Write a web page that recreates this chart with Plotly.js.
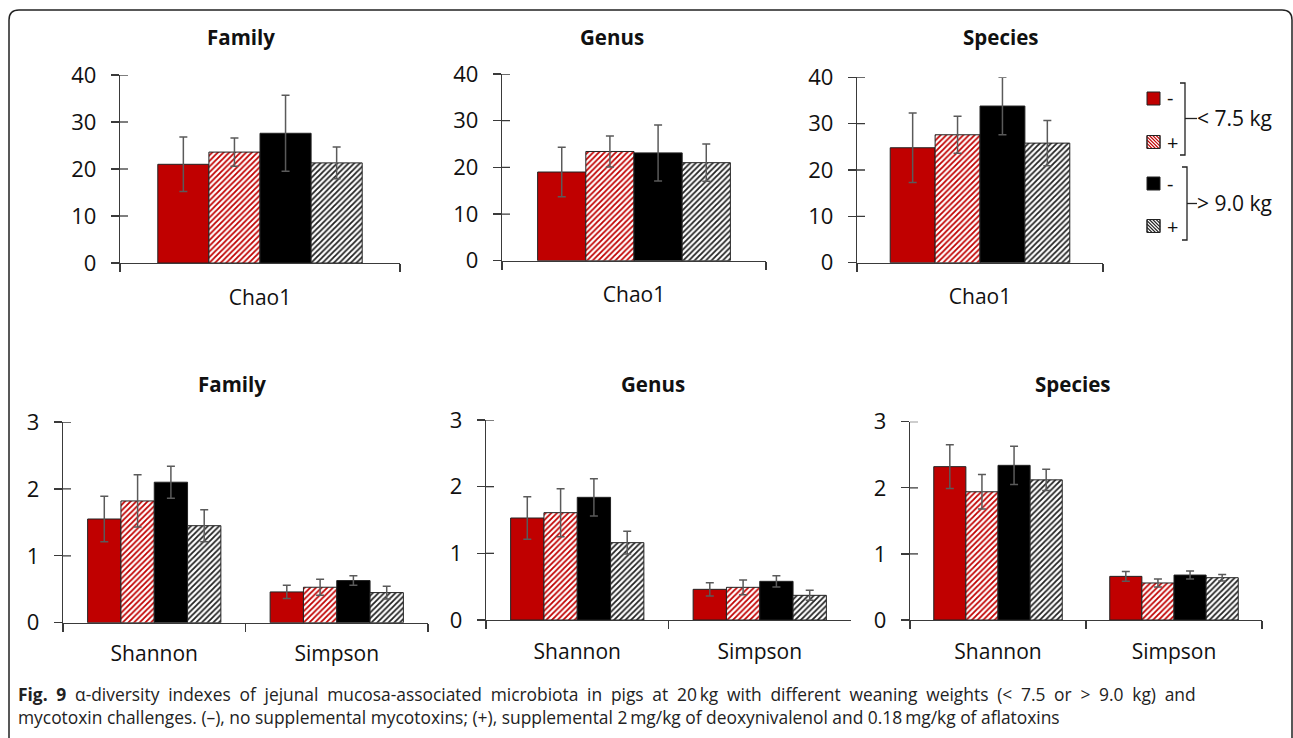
<!DOCTYPE html>
<html>
<head>
<meta charset="utf-8">
<script src="https://cdn.plot.ly/plotly-3.0.1.min.js"></script>
<style>html,body{margin:0;padding:0;background:#fff;}#chart{width:1293px;height:738px;}</style>
</head>
<body>
<div id="chart"></div>
<script>
// ---- data ----
const seriesNames = ['-', '+', '-', '+'];
const groupNames = ['< 7.5 kg', '> 9.0 kg'];
const topCategories = ['Chao1'];
const bottomCategories = ['Shannon', 'Simpson'];
const topTicks = [0, 10, 20, 30, 40];
const bottomTicks = [0, 1, 2, 3];

const familyChao1 = [21.0, 23.6, 27.6, 21.3];
const familyChao1Err = [5.8, 3.0, 8.1, 3.4];
const genusChao1 = [19.0, 23.4, 23.1, 21.0];
const genusChao1Err = [5.3, 3.3, 6.0, 4.0];
const speciesChao1 = [24.8, 27.6, 33.8, 25.8];
const speciesChao1Err = [7.5, 4.0, 6.2, 4.9];

const familyShannon = [1.55, 1.82, 2.10, 1.45];
const familyShannonErr = [0.34, 0.39, 0.24, 0.24];
const familySimpson = [0.46, 0.53, 0.63, 0.45];
const familySimpsonErr = [0.10, 0.12, 0.07, 0.095];

const genusShannon = [1.53, 1.61, 1.84, 1.16];
const genusShannonErr = [0.32, 0.36, 0.28, 0.17];
const genusSimpson = [0.46, 0.49, 0.58, 0.37];
const genusSimpsonErr = [0.10, 0.11, 0.085, 0.075];

const speciesShannon = [2.32, 1.94, 2.34, 2.12];
const speciesShannonErr = [0.33, 0.26, 0.29, 0.16];
const speciesSimpson = [0.66, 0.56, 0.68, 0.64];
const speciesSimpsonErr = [0.075, 0.06, 0.06, 0.05];

// ---- layout helpers ----
const W = 1293, H = 738;
const px = x => x / W;
const py = y => 1 - y / H;
const RED = '#c00000';
const AX = '#3a3a3a';

const panels = [
  {title: 'Family', x0: 120, x1: 400, yb: 263, yt: 75, ticks: topTicks, cats: topCategories,
   vals: [familyChao1], errs: [familyChao1Err], tx: 241, ty: 37, stand: 15},
  {title: 'Genus', x0: 502, x1: 766, yb: 260.7, yt: 74, ticks: topTicks, cats: topCategories,
   vals: [genusChao1], errs: [genusChao1Err], tx: 612, ty: 37, stand: 15},
  {title: 'Species', x0: 857, x1: 1103, yb: 262.7, yt: 77.3, ticks: topTicks, cats: topCategories,
   vals: [speciesChao1], errs: [speciesChao1Err], tx: 1000, ty: 37, stand: 15},
  {title: 'Family', x0: 63, x1: 428, yb: 622.7, yt: 422, ticks: bottomTicks, cats: bottomCategories,
   vals: [familyShannon, familySimpson], errs: [familyShannonErr, familySimpsonErr], tx: 232, ty: 384, stand: 12},
  {title: 'Genus', x0: 486, x1: 851, yb: 620, yt: 420, ticks: bottomTicks, cats: bottomCategories,
   vals: [genusShannon, genusSimpson], errs: [genusShannonErr, genusSimpsonErr], tx: 653, ty: 384, stand: 12},
  {title: 'Species', x0: 910, x1: 1262, yb: 620, yt: 421.7, ticks: bottomTicks, cats: bottomCategories,
   vals: [speciesShannon, speciesSimpson], errs: [speciesShannonErr, speciesSimpsonErr], tx: 1072, ty: 384, stand: 12}
];

const outline = {color: '#222', width: 1};
const markers = [
  {color: RED, line: outline},
  {color: 'white', line: outline, pattern: {shape: '/', fgcolor: RED, bgcolor: 'white', size: 4, solidity: 0.45}},
  {color: '#000', line: outline},
  {color: 'white', line: outline, pattern: {shape: '/', fgcolor: '#222', bgcolor: 'white', size: 4, solidity: 0.45}}
];

const traces = [];
const layout = {
  width: W, height: H,
  margin: {l: 0, r: 0, t: 0, b: 0},
  paper_bgcolor: '#fff', plot_bgcolor: 'rgba(0,0,0,0)',
  font: {family: 'Open Sans, sans-serif', color: '#111', size: 20},
  barmode: 'group', bargap: 0.27, bargroupgap: 0,
  showlegend: false,
  shapes: [], annotations: []
};

panels.forEach((p, k) => {
  const sfx = k === 0 ? '' : String(k + 1);
  for (let i = 0; i < 4; i++) {
    traces.push({
      type: 'bar',
      x: p.cats,
      y: p.vals.map(v => v[i]),
      error_y: {type: 'data', array: p.errs.map(e => e[i]), visible: true, color: '#5a5a5a', thickness: 1.5, width: 4},
      marker: markers[i],
      name: seriesNames[i],
      xaxis: 'x' + sfx, yaxis: 'y' + sfx,
      hoverinfo: 'skip'
    });
  }
  const ymax = p.ticks[p.ticks.length - 1];
  layout['xaxis' + sfx] = {
    domain: [px(p.x0), px(p.x1)], anchor: 'y' + sfx, type: 'category',
    showline: true, linecolor: AX, linewidth: 1.3,
    ticks: 'outside', tickson: 'boundaries', ticklen: 8, tickcolor: AX, tickwidth: 1.3,
    showgrid: false, zeroline: false, fixedrange: true,
    ticklabelstandoff: p.stand, tickfont: {size: 21, color: '#111'}
  };
  layout['yaxis' + sfx] = {
    domain: [py(p.yb), py(p.yt)], anchor: 'x' + sfx, range: [0, ymax],
    tickvals: p.ticks, ticktext: p.ticks.map(String),
    showline: true, linecolor: AX, linewidth: 1.3,
    ticks: 'outside', ticklen: 8, tickcolor: AX, tickwidth: 1.3,
    showgrid: false, zeroline: false, fixedrange: true,
    ticklabelstandoff: 10, tickfont: {size: 22, color: '#111'}
  };
  // inner half of the crossing tick marks
  p.ticks.forEach(v => {
    if (v === 0) return;
    layout.shapes.push({type: 'line', xref: 'paper', yref: 'y' + sfx,
      x0: px(p.x0), x1: px(p.x0 + 8), y0: v, y1: v, line: {color: AX, width: 1.3}});
  });
  layout.annotations.push({text: '<b>' + p.title + '</b>', xref: 'paper', yref: 'paper',
    x: px(p.tx), y: py(p.ty), xanchor: 'center', yanchor: 'middle', showarrow: false,
    font: {size: 20.5, color: '#111'}});
});

// ---- manual legend (swatches, signs, brackets) ----
const L = {color: '#222', width: 1.3};
const path = pts => 'M' + pts.map(q => px(q[0]) + ',' + py(q[1])).join(' L');
const swatchTops = [92, 135.5, 177, 219.5];
const swatchCenters = [98, 142, 183.5, 226];
const S = 13, SX = 1147;
function hatchSquare(x, y, s, color) {
  // diagonal '/' stripes clipped to the square (local coords, v measured upward: u + v = c)
  const step = 3.4;
  for (let c = step / 2; c < 2 * s; c += step) {
    const u0 = Math.max(0, c - s), u1 = Math.min(s, c);
    if (u1 <= u0) continue;
    layout.shapes.push({type: 'line', xref: 'paper', yref: 'paper',
      x0: px(x + u0), y0: py(y + s - (c - u0)), x1: px(x + u1), y1: py(y + s - (c - u1)),
      line: {color: color, width: 1.1}});
  }
}
markers.forEach((m, i) => {
  const y = swatchTops[i];
  const fill = m.pattern ? 'white' : m.color;
  layout.shapes.push({type: 'rect', xref: 'paper', yref: 'paper',
    x0: px(SX), x1: px(SX + S), y0: py(y), y1: py(y + S),
    fillcolor: fill, line: {color: '#222', width: 1}});
  if (m.pattern) hatchSquare(SX, y, S, m.pattern.fgcolor);
  if (m.pattern) layout.shapes.push({type: 'rect', xref: 'paper', yref: 'paper',
    x0: px(SX), x1: px(SX + S), y0: py(y), y1: py(y + S),
    fillcolor: 'rgba(0,0,0,0)', line: {color: '#222', width: 1}});
  layout.annotations.push({text: seriesNames[i], xref: 'paper', yref: 'paper',
    x: px(1165), y: py(swatchCenters[i]), xanchor: 'left', yanchor: 'middle', showarrow: false,
    font: {size: 20, color: '#111'}});
});
layout.shapes.push({type: 'path', xref: 'paper', yref: 'paper', line: L,
  path: path([[1180, 83], [1185, 83], [1185, 155], [1180, 155]])});
layout.shapes.push({type: 'line', xref: 'paper', yref: 'paper', line: L,
  x0: px(1185), x1: px(1197), y0: py(118.5), y1: py(118.5)});
layout.shapes.push({type: 'path', xref: 'paper', yref: 'paper', line: L,
  path: path([[1182, 167], [1187, 167], [1187, 240], [1182, 240]])});
layout.shapes.push({type: 'line', xref: 'paper', yref: 'paper', line: L,
  x0: px(1187), x1: px(1197), y0: py(203.5), y1: py(203.5)});
layout.annotations.push({text: groupNames[0], xref: 'paper', yref: 'paper', x: px(1195), y: py(118),
  xanchor: 'left', yanchor: 'middle', showarrow: false, font: {size: 21, color: '#111'}});
layout.annotations.push({text: groupNames[1], xref: 'paper', yref: 'paper', x: px(1195), y: py(203),
  xanchor: 'left', yanchor: 'middle', showarrow: false, font: {size: 21, color: '#111'}});

// figure frame (rounded corners)
layout.shapes.push({type: 'path', xref: 'paper', yref: 'paper', line: {color: '#222', width: 1.5},
  path: 'M' + px(9) + ',' + py(745) + ' L' + px(9) + ',' + py(20) +
        ' Q' + px(9) + ',' + py(10) + ' ' + px(19) + ',' + py(10) +
        ' L' + px(1282) + ',' + py(10) +
        ' Q' + px(1292) + ',' + py(10) + ' ' + px(1292) + ',' + py(20) +
        ' L' + px(1292) + ',' + py(745)});

// caption (first line justified via word spacing)
layout.annotations.push({
  text: '<span style="word-spacing:4.2px"><b>Fig. 9</b> α-diversity indexes of jejunal mucosa-associated microbiota in pigs at 20\u2009kg with different weaning weights (< 7.5 or > 9.0 kg) and</span><br>mycotoxin challenges. (–), no supplemental mycotoxins; (+), supplemental 2\u2009mg/kg of deoxynivalenol and 0.18\u2009mg/kg of aflatoxins',
  xref: 'paper', yref: 'paper', x: px(16), y: py(705), xanchor: 'left', yanchor: 'middle', align: 'left',
  showarrow: false, font: {size: 17.4, color: '#222'}
});

Plotly.newPlot('chart', traces, layout, {staticPlot: true, displayModeBar: false});
</script>
</body>
</html>
